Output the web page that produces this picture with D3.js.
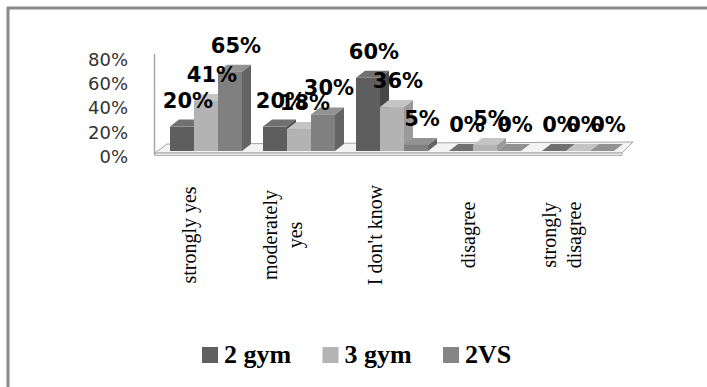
<!DOCTYPE html>
<html>
<head>
<meta charset="utf-8">
<script src="https://cdn.jsdelivr.net/npm/d3@7"></script>
<style>
  html, body { margin: 0; padding: 0; background: #fff; }
  svg { display: block; }
</style>
</head>
<body>
<div id="chart"></div>
<script>
// categories and series
const categories = ["strongly yes", "moderately yes", "I don't know", "disagree", "strongly disagree"];
const categoryLines = [["strongly yes"], ["moderately", "yes"], ["I don't know"], ["disagree"], ["strongly", "disagree"]];
const seriesNames = ["2 gym", "3 gym", "2VS"];
const gym2 = [0.20, 0.20, 0.60, 0.00, 0.00];
const gym3 = [0.41, 0.18, 0.36, 0.05, 0.00];
const vs2 = [0.65, 0.30, 0.05, 0.00, 0.00];
const yTicks = [0, 0.2, 0.4, 0.6, 0.8];

const seriesValues = [gym2, gym3, vs2];

const width = 707, height = 387;
const depthX = 9, depthY = 7;

// front / top / side shades per series
const colors = [
  { front: "#5e5e5e", top: "#707070", side: "#474747", legend: "#606060" },
  { front: "#b3b3b3", top: "#c4c4c4", side: "#9a9a9a", legend: "#b4b4b4" },
  { front: "#808080", top: "#929292", side: "#646464", legend: "#858585" }
];

const svg = d3.select("#chart")
  .append("svg")
  .attr("width", width)
  .attr("height", height);

// outer frame (only top and left edges show)
svg.append("line").attr("x1", 7).attr("y1", 8).attr("x2", width).attr("y2", 8)
  .attr("stroke", "#8a8a8a").attr("stroke-width", 3);
svg.append("line").attr("x1", 8).attr("y1", 7).attr("x2", 8).attr("y2", height)
  .attr("stroke", "#8a8a8a").attr("stroke-width", 3);

const x = d3.scaleBand().domain(categories).range([159.5, 624.5]);
const xs = d3.scaleBand().domain(seriesNames).range([0, 72]);
const clusterPad = (x.bandwidth() - 72) / 2;
const y = d3.scaleLinear().domain([0, 0.8]).range([151, 53.4]);

// floor and left wall
const fx0 = 155, fx1 = 622, fy = 153;
svg.append("path")
  .attr("d", `M${fx0},${fy} L${fx1},${fy} L${fx1 + 11},${fy - 11} L${fx0 + 12},${fy - 9} Z`)
  .attr("fill", "#f3f3f3").attr("stroke", "#a5a5a5").attr("stroke-width", 1);
svg.append("rect")
  .attr("x", fx0).attr("y", fy).attr("width", fx1 - fx0).attr("height", 2.5)
  .attr("fill", "#e6e6e6").attr("stroke", "#a5a5a5").attr("stroke-width", 0.8);
svg.append("line")
  .attr("x1", 154.5).attr("y1", 54).attr("x2", 154.5).attr("y2", fy + 2)
  .attr("stroke", "#a5a5a5").attr("stroke-width", 1.5);

// y axis labels (sit on the front edge, a few px below the bar scale)
const yAxis = d3.axisLeft(y.copy().range([151 + 6, 53.4 + 6]))
  .tickValues(yTicks)
  .tickFormat(d3.format(".0%"))
  .tickSize(0)
  .tickPadding(2);
const ga = svg.append("g")
  .attr("transform", "translate(130,0)")
  .call(yAxis);
ga.select(".domain").remove();
ga.selectAll("text")
  .attr("font-family", "DejaVu Sans, sans-serif")
  .attr("font-size", 18)
  .attr("fill", "#333");

// bars as simple 3D boxes, drawn left to right
const bars = [];
categories.forEach((c, i) => {
  seriesNames.forEach((s, j) => {
    bars.push({ cat: c, series: j, value: seriesValues[j][i] });
  });
});

const gb = svg.append("g");
bars.forEach(d => {
  const x0 = x(d.cat) + clusterPad + xs(seriesNames[d.series]);
  const w = xs.bandwidth();
  const yt = y(d.value), yb = y(0);
  const col = colors[d.series];
  const g = gb.append("g");
  // side
  g.append("path")
    .attr("d", `M${x0 + w},${yt} L${x0 + w + depthX},${yt - depthY} L${x0 + w + depthX},${yb - depthY} L${x0 + w},${yb} Z`)
    .attr("fill", col.side);
  // top
  g.append("path")
    .attr("d", `M${x0},${yt} L${x0 + depthX},${yt - depthY} L${x0 + w + depthX},${yt - depthY} L${x0 + w},${yt} Z`)
    .attr("fill", col.top);
  // front
  g.append("rect")
    .attr("x", x0).attr("y", yt)
    .attr("width", w).attr("height", yb - yt)
    .attr("fill", col.front);
});

// value labels
svg.append("g").selectAll("text")
  .data(bars)
  .join("text")
  .attr("x", d => x(d.cat) + clusterPad + xs(seriesNames[d.series]) + xs.bandwidth() / 2 + 6)
  .attr("y", d => y(d.value) - 19)
  .attr("text-anchor", "middle")
  .attr("font-family", "DejaVu Sans, sans-serif")
  .attr("font-weight", "bold")
  .attr("font-size", 21)
  .attr("fill", "#000")
  .text(d => d3.format(".0%")(d.value));

// category labels, rotated
const lineH = 25;
const gc = svg.append("g");
categories.forEach((c, i) => {
  const lines = categoryLines[i];
  const t = gc.append("text")
    .attr("transform", `translate(${x(c) + x.bandwidth() / 2 - 17},235) rotate(-90)`)
    .attr("text-anchor", "middle")
    .attr("font-family", "Liberation Serif, Times New Roman, serif")
    .attr("font-size", 20)
    .attr("fill", "#000");
  lines.forEach((ln, k) => {
    t.append("tspan")
      .attr("x", 0)
      .attr("y", (k - (lines.length - 1) / 2) * lineH)
      .attr("dy", "0.35em")
      .text(ln);
  });
});

// legend
const gl = svg.append("g");
seriesNames.forEach((s, j) => {
  const lx = 202 + j * 120.5;
  gl.append("rect")
    .attr("x", lx).attr("y", 347)
    .attr("width", 16).attr("height", 16)
    .attr("fill", colors[j].legend);
  gl.append("text")
    .attr("x", lx + 22).attr("y", 363)
    .attr("font-family", "Liberation Serif, Times New Roman, serif")
    .attr("font-weight", "bold")
    .attr("font-size", 26)
    .attr("fill", "#000")
    .text(s);
});
</script>
</body>
</html>
